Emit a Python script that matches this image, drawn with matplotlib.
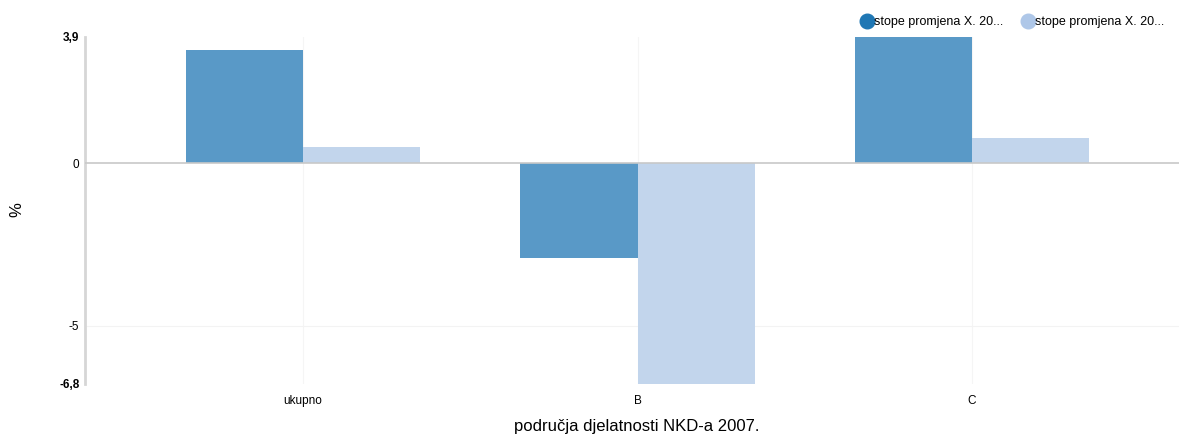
import numpy as np
import matplotlib.pyplot as plt
from matplotlib.lines import Line2D

plt.rcParams['font.family'] = ['Liberation Sans', 'DejaVu Sans']

# Data
categories = ["ukupno", "B", "C"]
series_names = ["stope promjena X. 20...", "stope promjena X. 20..."]
values_a = [3.5, -2.9, 3.9]
values_b = [0.5, -6.8, 0.8]

bar_colors = ["#5999c7", "#c2d5ec"]
marker_colors = ["#1f77b4", "#aec7e8"]

fig = plt.figure(figsize=(11.79, 4.37), dpi=100)
ax = fig.add_axes([85 / 1179, 1 - 384 / 437, 1 - 85 / 1179, (384 - 37) / 437])

x = np.arange(len(categories))
w = 0.35
ax.bar(x - w / 2, values_a, w, color=bar_colors[0], zorder=2)
ax.bar(x + w / 2, values_b, w, color=bar_colors[1], zorder=2)

ax.set_xlim(-0.652, 2.619)
ax.set_ylim(-6.8, 3.9)

# grid
for xi in x:
    ax.axvline(xi, color="#f5f5f5", lw=0.8, zorder=0)
ax.axhline(-5, color="#f3f3f3", lw=0.8, zorder=0)
ax.axhline(0, color="#c8c8c8", lw=1.2, zorder=3)

ax.set_xticks(x)
ax.set_xticklabels(categories, fontsize=8.5)
ax.set_yticks([-6.8, -5, 0, 3.9])
ax.set_yticklabels(["-6,8", "-5", "0", "3,9"], fontsize=8.5)
for lbl in ax.get_yticklabels():
    if lbl.get_text() in ("-6,8", "3,9"):
        lbl.set_fontweight("bold")
ax.tick_params(axis="both", length=0, pad=4)
ax.tick_params(axis="x", pad=8)

for s in ["top", "right", "bottom"]:
    ax.spines[s].set_visible(False)
ax.spines["left"].set_color("#d6d6d6")
ax.spines["left"].set_linewidth(2)

fig.text(17 / 1179, 1 - 210 / 437, "%", fontsize=12, rotation=90, ha="center", va="center")
fig.text(637 / 1179, 1 - 427 / 437, "područja djelatnosti NKD-a 2007.",
         fontsize=12, ha="center", va="center")

# legend
handles = [Line2D([], [], marker="o", ls="", markersize=10.5, color=c) for c in marker_colors]
leg = fig.legend(handles, series_names, loc="center right", bbox_to_anchor=(1 - 15 / 1179, 1 - 22 / 437),
                 ncol=2, frameon=False, fontsize=9, handletextpad=0.0, columnspacing=1.4,
                 handlelength=1.1, borderaxespad=0, borderpad=0)

fig.savefig("out.png", dpi=100)
